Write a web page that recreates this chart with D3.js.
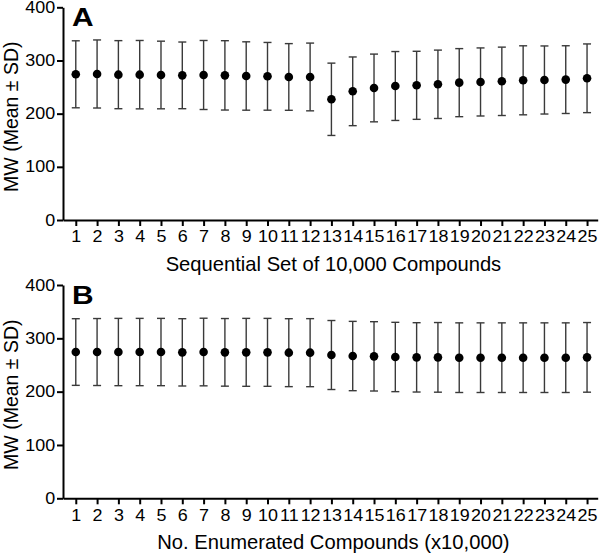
<!DOCTYPE html>
<html><head><meta charset="utf-8">
<script src="https://cdn.jsdelivr.net/npm/d3@7"></script>
<style>
body{margin:0;background:#fff;}
svg{display:block;font-family:"Liberation Sans",Arial,sans-serif;}
</style></head>
<body>
<svg id="chart" width="600" height="558"></svg>
<script>
const categories = [1,2,3,4,5,6,7,8,9,10,11,12,13,14,15,16,17,18,19,20,21,22,23,24,25];
const yTicks = [0,100,200,300,400];

const meanA = [274,274.6,273.3,273.3,272.7,272,272.7,272,270.8,270.2,269,269,227,242,248.3,252,253.3,255.2,258.3,259.6,260.8,262.7,263.3,264,266.5];
const sdA   = [63,64,64,64.3,63.6,62.7,64.9,65.2,64.3,63.7,62.7,63.7,68,64.6,63.7,64.8,64,64.3,64,64,64.3,64.9,64,63.7,64.6];

const meanB = [274.3,274.3,274.3,274.3,274.3,273.7,274.3,273.7,273.7,273.7,273.1,273.1,268.7,266.8,266.2,265,264.3,264.3,263.7,263.7,263.7,263.7,263.7,263.7,264.3];
const sdB   = [62.5,62.8,63.1,63.1,63.1,63.1,63.4,63.4,63.7,63.7,63.7,63.8,64.7,65,65,65,65,65.3,65.3,65.3,65.3,65.3,65.3,65.3,65.3];

const svg = d3.select("#chart");
const x = d3.scaleLinear().domain([0.4,25.5]).range([63,597.7]);

function panel(top, bottom, means, sds, letter, xTitle){
  const y = d3.scaleLinear().domain([0,400]).range([bottom, top]);
  const g = svg.append("g");
  const data = categories.map((c,i)=>({c, m:means[i], s:sds[i]}));

  // error bars
  const eb = g.append("g").attr("stroke","#3a3a3a").attr("stroke-width",1.4);
  eb.selectAll("line.v").data(data).join("line")
    .attr("x1",d=>x(d.c)).attr("x2",d=>x(d.c))
    .attr("y1",d=>y(d.m+d.s)).attr("y2",d=>y(d.m-d.s));
  eb.selectAll("line.t").data(data).join("line")
    .attr("x1",d=>x(d.c)-4).attr("x2",d=>x(d.c)+4)
    .attr("y1",d=>y(d.m+d.s)).attr("y2",d=>y(d.m+d.s));
  eb.selectAll("line.b").data(data).join("line")
    .attr("x1",d=>x(d.c)-4).attr("x2",d=>x(d.c)+4)
    .attr("y1",d=>y(d.m-d.s)).attr("y2",d=>y(d.m-d.s));
  g.selectAll("circle").data(data).join("circle")
    .attr("cx",d=>x(d.c)).attr("cy",d=>y(d.m)).attr("r",4.3).attr("fill","#000");

  // axes
  const ya = g.append("g").attr("transform",`translate(${x.range()[0]},0)`)
    .call(d3.axisLeft(y).tickValues(yTicks).tickSize(6).tickPadding(1).tickSizeOuter(0));
  const xa = g.append("g").attr("transform",`translate(0,${bottom})`)
    .call(d3.axisBottom(x).tickValues(categories).tickSize(6).tickPadding(5).tickSizeOuter(0));
  [ya,xa].forEach(a=>{
    a.select(".domain").attr("stroke","#000").attr("stroke-width",2);
    a.selectAll(".tick line").attr("stroke","#000").attr("stroke-width",2);
    a.selectAll("text").attr("fill","#000").attr("font-size",16)
      .attr("font-family","Liberation Sans, Arial, sans-serif")
      .attr("transform","scale(1.12,1)");
  });

  g.append("text").attr("transform",`translate(72,${top+18.5}) scale(1.15,1)`)
    .attr("font-size",26).attr("font-weight","bold").attr("fill","#000").text(letter);
  g.append("text").attr("x",(x(1)+x(25))/2+2).attr("y",bottom+51).attr("text-anchor","middle")
    .attr("font-size",20.2).attr("fill","#000").text(xTitle);
  g.append("text").attr("transform",`translate(18,${(top+bottom)/2+3}) rotate(-90)`)
    .attr("text-anchor","middle").attr("font-size",19.5).attr("fill","#000").text("MW (Mean \u00b1 SD)");
}

panel(7.3, 220, meanA, sdA, "A", "Sequential Set of 10,000 Compounds");
panel(285, 498.3, meanB, sdB, "B", "No. Enumerated Compounds (x10,000)");
</script>
</body></html>
